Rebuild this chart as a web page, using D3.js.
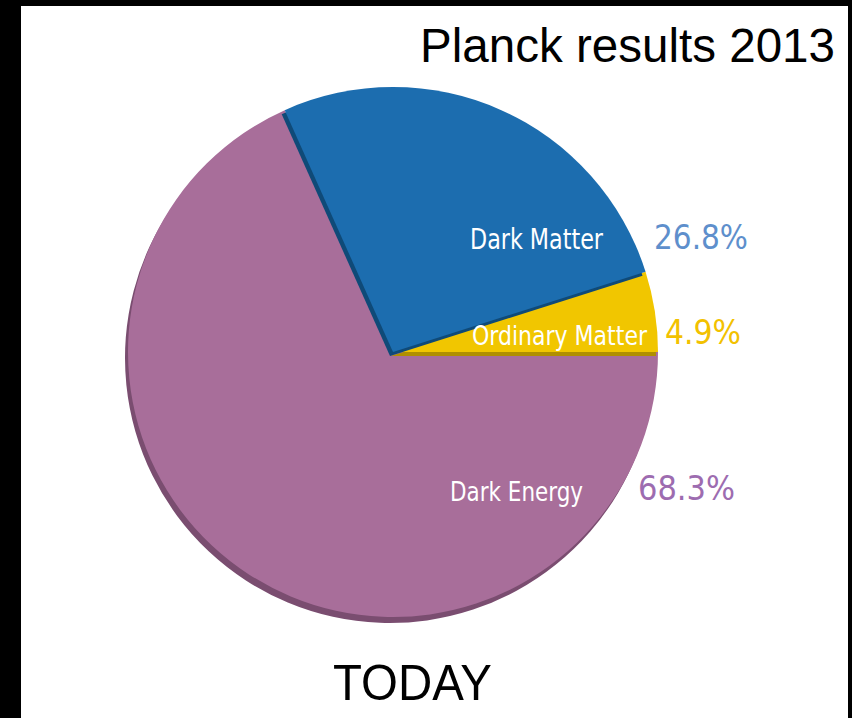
<!DOCTYPE html>
<html><head><meta charset="utf-8">
<script src="https://cdn.jsdelivr.net/npm/d3@7"></script>
<style>html,body{margin:0;padding:0;background:#000;}svg{display:block;}</style>
</head><body>
<script>
// Data
const categories = ["Dark Matter", "Ordinary Matter", "Dark Energy"];
const values = [26.8, 4.9, 68.3];
const valueLabels = ["26.8%", "4.9%", "68.3%"];
const title = "Planck results 2013";
const caption = "TODAY";

const W = 852, H = 718;
const colors = ["#1c6daf", "#f1c600", "#a86e9a"];
const shadowColors = ["#0f4a78", "#b08f00", "#7a4d70"];
const pctColors = ["#5e8fcc", "#f2c100", "#9d6cb0"];

const svg = d3.select("body").append("svg").attr("width", W).attr("height", H);
svg.append("rect").attr("width", W).attr("height", H).attr("fill", "#000");
svg.append("rect").attr("x", 21).attr("y", 6).attr("width", 827).attr("height", H - 6).attr("fill", "#fff");

const cx = 393, cy = 352, R = 265;
const total = d3.sum(values);
const start = Math.PI / 2 - 2 * Math.PI * (values[0] + values[1]) / total;
const pie = d3.pie().sort(null).value(d => d).startAngle(start).endAngle(start + 2 * Math.PI);
const arcs = pie(values);
const arc = d3.arc().innerRadius(0).outerRadius(R);

const g = svg.append("g").attr("transform", `translate(${cx},${cy})`);
// draw order: Dark Energy, Ordinary Matter, Dark Matter
const order = [2, 1, 0];
const shadowOff = [[-3, 4], [-2, 4], [-3, 6]];
order.forEach(i => {
  g.append("path").attr("d", arc(arcs[i]))
    .attr("transform", `translate(${shadowOff[i][0]},${shadowOff[i][1]})`)
    .attr("fill", shadowColors[i]);
  g.append("path").attr("d", arc(arcs[i])).attr("fill", colors[i]);
});

// Labels (anchor points relative to pie centre)
const inLabelPos = [[210, -103], [254, -7], [190, 149]];
const inLabelW = [133, 175, 133];
const inLabelSize = [28, 27, 27];
const pctPos = [[261, -103], [272, -8], [245, 148]];
const pctW = [94, 76, 97];
const font = "'DejaVu Sans Condensed', 'Liberation Sans Narrow', 'DejaVu Sans', sans-serif";
categories.forEach((c, i) => {
  g.append("text").attr("x", inLabelPos[i][0]).attr("y", inLabelPos[i][1])
    .attr("text-anchor", "end").attr("fill", "#fff")
    .attr("font-family", font).attr("font-size", inLabelSize[i])
    .attr("textLength", inLabelW[i]).attr("lengthAdjust", "spacingAndGlyphs")
    .text(c);
  g.append("text").attr("x", pctPos[i][0]).attr("y", pctPos[i][1])
    .attr("fill", pctColors[i])
    .attr("font-family", font).attr("font-size", 33)
    .attr("textLength", pctW[i]).attr("lengthAdjust", "spacingAndGlyphs")
    .text(valueLabels[i]);
});

svg.append("text").attr("x", 835).attr("y", 62).attr("text-anchor", "end")
  .attr("font-family", "Arial, 'Liberation Sans', sans-serif").attr("font-size", 47.5)
  .attr("textLength", 415).attr("lengthAdjust", "spacingAndGlyphs")
  .attr("fill", "#000").text(title);
svg.append("text").attr("x", 333).attr("y", 700)
  .attr("font-family", "Arial, 'Liberation Sans', sans-serif").attr("font-size", 50)
  .attr("textLength", 159).attr("lengthAdjust", "spacingAndGlyphs")
  .attr("fill", "#000").text(caption);
</script>
</body></html>
